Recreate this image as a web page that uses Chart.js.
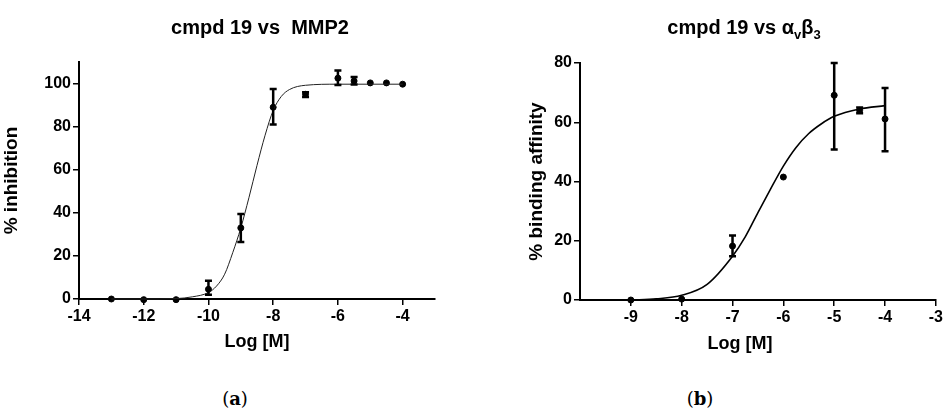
<!DOCTYPE html>
<html>
<head>
<meta charset="utf-8">
<script src="https://cdn.jsdelivr.net/npm/chart.js@4.4.0/dist/chart.umd.min.js"></script>
<style>
  body { margin: 0; background: #fff; width: 945px; height: 414px; position: relative; overflow: hidden; }
  #caja-a { position: absolute; left: 0; top: 0; width: 470px; height: 360px; }
  #caja-b { position: absolute; left: 470px; top: 0; width: 475px; height: 360px; }
  .etiqueta { position: absolute; top: 388px; width: 60px; text-align: center; font: 18px "DejaVu Serif", serif; color: #000; }
</style>
</head>
<body>
<div id="caja-a"><canvas id="chart-mmp2" width="470" height="360"></canvas></div>
<div id="caja-b"><canvas id="chart-avb3" width="475" height="360"></canvas></div>
<div class="etiqueta" style="left:205px">(<b>a</b>)</div>
<div class="etiqueta" style="left:670px">(<b>b</b>)</div>
<script>
// Panel (a): cmpd 19 vs MMP2
var logA = [-13, -12, -11, -10, -9, -8, -7, -6, -5.5, -5, -4.5, -4];
var inhibA = [0, -0.3, -0.3, 4.5, 33, 89, 95, 102.5, 101.2, 100.3, 100.3, 99.7];
var errAltoA = [null, null, null, 8.5, 39.5, 97.5, 96, 106, 103, null, null, null];
var errBajoA = [null, null, null, 2, 26.5, 81, 93.8, 99.3, 99.5, null, null, null];
// curva ajustada
var curvaXA = [-13, -12, -11, -10.5, -10, -9.75, -9.5, -9.25, -9, -8.75, -8.5, -8.25, -8, -7.75, -7.5, -7, -6, -5, -4];
var curvaYA = [0, 0, 0.2, 1, 3, 6, 11.5, 21.5, 33, 47, 62, 76, 87.5, 94, 97.2, 99.2, 99.7, 99.7, 99.7];
var ticksXA = [-14, -12, -10, -8, -6, -4];
var ticksYA = [0, 20, 40, 60, 80, 100];

// Panel (b): cmpd 19 vs avb3
var logB = [-9, -8, -7, -6, -5, -4.5, -4];
var afinB = [0, 0.3, 18.2, 41.5, 69.1, 64, 61.1];
var errAltoB = [null, null, 21.8, null, 80, 65, 71.6];
var errBajoB = [null, null, 14.8, null, 50.8, 63, 50.2];
var curvaXB = [-9, -8.5, -8, -7.5, -7, -6.75, -6.5, -6.25, -6, -5.75, -5.5, -5.25, -5, -4.5, -4];
var curvaYB = [0, 0.4, 1.6, 5.3, 14.8, 21.3, 29.5, 37.5, 45.2, 51.5, 56.2, 59.5, 62, 64.5, 65.6];
var ticksXB = [-9, -8, -7, -6, -5, -4, -3];
var ticksYB = [0, 20, 40, 60, 80];

var fuente = '"Liberation Sans", Arial, sans-serif';

function puntos(xs, ys) {
    return xs.map(function (x, i) { return { x: x, y: ys[i] }; });
}

// barras de error con tapas
var barrasError = {
    id: 'barrasError',
    afterDatasetsDraw: function (chart, args, opts) {
        var ctx = chart.ctx;
        var sx = chart.scales.x, sy = chart.scales.y;
        ctx.save();
        ctx.strokeStyle = '#000';
        ctx.lineWidth = 2.5;
        opts.x.forEach(function (x, i) {
            if (opts.hi[i] == null) return;
            var px = sx.getPixelForValue(x);
            var top = sy.getPixelForValue(opts.hi[i]);
            var bot = sy.getPixelForValue(opts.lo[i]);
            ctx.beginPath();
            ctx.moveTo(px, top); ctx.lineTo(px, bot);
            ctx.moveTo(px - 3.5, top); ctx.lineTo(px + 3.5, top);
            ctx.moveTo(px - 3.5, bot); ctx.lineTo(px + 3.5, bot);
            ctx.stroke();
        });
        ctx.restore();
    }
};

// textos sueltos (titulo con subindices, etc.)
var textos = {
    id: 'textos',
    afterDraw: function (chart, args, opts) {
        var ctx = chart.ctx;
        ctx.save();
        ctx.fillStyle = '#000';
        ctx.textBaseline = 'alphabetic';
        opts.items.forEach(function (item) {
            var tam = item.size || 20;
            var ancho = 0;
            item.partes.forEach(function (p) {
                ctx.font = 'bold ' + (p.sub ? 13 : tam) + 'px ' + fuente;
                ancho += ctx.measureText(p.t).width;
            });
            var x = item.cx - ancho / 2;
            item.partes.forEach(function (p) {
                ctx.font = 'bold ' + (p.sub ? 13 : tam) + 'px ' + fuente;
                ctx.fillText(p.t, x, item.y + (p.sub ? 5 : 0));
                x += ctx.measureText(p.t).width;
            });
        });
        ctx.restore();
    }
};

function escalas(minX, maxX, tX, maxY, tY, anchoY, tituloY, padY, verTituloX) {
    return {
        x: {
            type: 'linear', min: minX, max: maxX,
            afterBuildTicks: function (s) { s.ticks = tX.map(function (v) { return { value: v }; }); },
            afterFit: function (s) { s.height = 60; },
            ticks: { color: '#000', font: { family: fuente, size: 16, weight: 'bold' }, padding: 2, maxRotation: 0 },
            grid: { drawOnChartArea: false, color: '#000', lineWidth: 1.5, tickLength: 6 },
            border: { color: '#000', width: 2 },
            title: { display: verTituloX, text: 'Log [M]', color: '#000', font: { family: fuente, size: 18, weight: 'bold' }, padding: { bottom: 6 } }
        },
        y: {
            min: 0, max: maxY,
            afterBuildTicks: function (s) { s.ticks = tY.map(function (v) { return { value: v }; }); },
            afterFit: function (s) { s.width = anchoY; },
            ticks: { color: '#000', font: { family: fuente, size: 16, weight: 'bold' }, padding: 2 },
            grid: { drawOnChartArea: false, color: '#000', lineWidth: 1.5, tickLength: 6 },
            border: { color: '#000', width: 2 },
            title: { display: true, text: tituloY, color: '#000', font: { family: fuente, size: 19, weight: 'bold' }, padding: { top: padY } }
        }
    };
}

// ******* CHART A **********
var contextoA = document.getElementById('chart-mmp2').getContext('2d');
var chartA = new Chart(contextoA, {
    type: 'scatter',
    data: {
        datasets: [{
            type: 'line',
            data: puntos(curvaXA, curvaYA),
            borderColor: '#222',
            borderWidth: 1,
            pointRadius: 0,
            cubicInterpolationMode: 'monotone',
            clip: false
        }, {
            data: puntos(logA, inhibA),
            backgroundColor: '#000',
            borderColor: '#000',
            pointRadius: 3,
            clip: false
        }]
    },
    options: {
        responsive: false,
        animation: false,
        devicePixelRatio: 1,
        layout: { padding: { top: 62, right: 35, bottom: 1, left: 0 } },
        scales: escalas(-14, -3, ticksXA, 110, ticksYA, 79, '% inhibition', 0, true),
        plugins: {
            legend: { display: false },
            tooltip: { enabled: false },
            barrasError: { x: logA, hi: errAltoA, lo: errBajoA },
            textos: { items: [{ cx: 260, y: 34, partes: [{ t: 'cmpd 19 vs  MMP2' }] }] }
        }
    },
    plugins: [barrasError, textos]
});

// ******* CHART B **********
var contextoB = document.getElementById('chart-avb3').getContext('2d');
var chartB = new Chart(contextoB, {
    type: 'scatter',
    data: {
        datasets: [{
            type: 'line',
            data: puntos(curvaXB, curvaYB),
            borderColor: '#000',
            borderWidth: 1.6,
            pointRadius: 0,
            cubicInterpolationMode: 'monotone',
            clip: false
        }, {
            data: puntos(logB, afinB),
            backgroundColor: '#000',
            borderColor: '#000',
            pointRadius: 3,
            clip: false
        }]
    },
    options: {
        responsive: false,
        animation: false,
        devicePixelRatio: 1,
        layout: { padding: { top: 63, right: 5, bottom: 0, left: 0 } },
        scales: escalas(-10, -3, ticksXB, 80, ticksYB, 110, '% binding affinity', 55, false),
        plugins: {
            legend: { display: false },
            tooltip: { enabled: false },
            barrasError: { x: logB, hi: errAltoB, lo: errBajoB },
            textos: { items: [
                { cx: 274, y: 34, partes: [{ t: 'cmpd 19 vs ' }, { t: 'α' }, { t: 'v', sub: true }, { t: 'β' }, { t: '3', sub: true }] },
                { cx: 270, y: 349, size: 18, partes: [{ t: 'Log [M]' }] }
            ] }
        }
    },
    plugins: [barrasError, textos]
});
</script>
</body>
</html>
